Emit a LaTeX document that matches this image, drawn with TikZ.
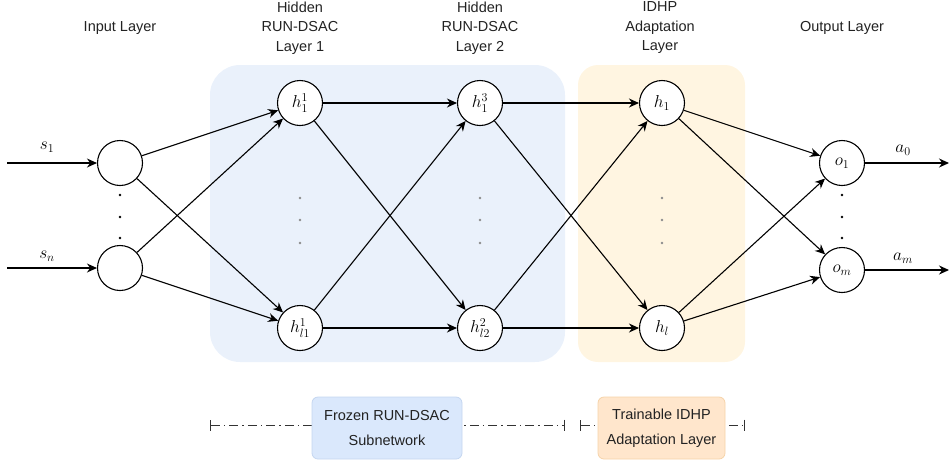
\documentclass[tikz,border=0pt]{standalone}
\usepackage{fontspec}
\setmainfont{Liberation Sans}
\usetikzlibrary{arrows.meta}
\definecolor{bluereg}{HTML}{EAF1FB}
\definecolor{orangereg}{HTML}{FFF5E1}
\definecolor{frozenfill}{HTML}{DAE8FC}
\definecolor{frozendraw}{HTML}{C4D6F0}
\definecolor{trainfill}{HTML}{FFE6CC}
\definecolor{traindraw}{HTML}{F6D3A8}
\definecolor{txt}{HTML}{222222}
\begin{document}
\begin{tikzpicture}[x=1pt,y=-1pt,
  neuron/.style={circle,draw=black,fill=white,line width=1.1pt,minimum size=45pt,inner sep=0pt,font=\LARGE},
  conn/.style={line width=1.1pt,-{Stealth[length=10pt,width=9pt]}},
  hdr/.style={align=center,font=\fontsize{14.5}{19.5}\selectfont,text=txt},
  lbl/.style={font=\LARGE},
  vdot/.style={circle,fill=#1,inner sep=0pt,minimum size=2.6pt},
  legline/.style={line width=0.9pt,draw=black!80,dash pattern=on 9pt off 4pt on 1.5pt off 4pt,{Bar[width=11pt,line width=1.1pt]}-{Bar[width=11pt,line width=1.1pt]}},
  legbox/.style={rounded corners=6pt,align=center,minimum height=62pt,inner sep=0pt,line width=0.8pt,font=\fontsize{14.5}{25}\selectfont,text=txt}
]
\useasboundingbox (0,0) rectangle (949,459);

% background regions
\fill[bluereg, rounded corners=30pt] (210,65) rectangle (565,362);
\fill[orangereg, rounded corners=20pt] (578,65) rectangle (745,362);

% headers
\node[hdr] (hin) at (120,28) {Input Layer};
\node[hdr] (hh1) at (300,28) {Hidden\\RUN-DSAC\\Layer 1};
\node[hdr] (hh2) at (480,28) {Hidden\\RUN-DSAC\\Layer 2};
\node[hdr] (hid) at (660,28) {IDHP\\Adaptation\\Layer};
\node[hdr] (hout) at (842,28) {Output Layer};

% neurons
\node[neuron] (i1) at (120,163) {};
\node[neuron] (i2) at (120,268) {};
\node[neuron] (a1) at (300,103) {$h^1_1$};
\node[neuron] (a2) at (300,328) {$h^1_{l1}$};
\node[neuron] (b1) at (480,103) {$h^3_1$};
\node[neuron] (b2) at (480,328) {$h^2_{l2}$};
\node[neuron] (c1) at (662,103) {$h_1$};
\node[neuron] (c2) at (662,328) {$h_l$};
\node[neuron] (o1) at (842,163) {$o_1$};
\node[neuron] (o2) at (842,270) {$o_m$};

% dots
\foreach \y [count=\k] in {195,217,238} {
  \node[vdot=black] (di\k) at (120,\y) {};
  \node[vdot=black] (do\k) at (842,\y) {};
}
\foreach \y [count=\k] in {198,220,243} {
  \node[vdot=black!45] (da\k) at (300,\y) {};
  \node[vdot=black!45] (db\k) at (480,\y) {};
  \node[vdot=black!45] (dc\k) at (662,\y) {};
}

% inputs and outputs
\coordinate (s1) at (7,163);
\coordinate (sn) at (7,268);
\coordinate (e1) at (949,163);
\coordinate (em) at (949,270);
\draw[conn] (s1) -- (i1);
\draw[conn] (sn) -- (i2);
\draw[conn] (o1) -- (e1);
\draw[conn] (o2) -- (em);
\node[lbl] (ls1) at (47,147) {$s_1$};
\node[lbl] (lsn) at (47,256) {$s_n$};
\node[lbl] (la0) at (903,150) {$a_0$};
\node[lbl] (lam) at (903,258) {$a_m$};

% connections
\foreach \s in {i1,i2} \foreach \t in {a1,a2} \draw[conn] (\s) -- (\t);
\foreach \s in {a1,a2} \foreach \t in {b1,b2} \draw[conn] (\s) -- (\t);
\foreach \s in {b1,b2} \foreach \t in {c1,c2} \draw[conn] (\s) -- (\t);
\foreach \s in {c1,c2} \foreach \t in {o1,o2} \draw[conn] (\s) -- (\t);

% legend
\coordinate (l1a) at (210,425);
\coordinate (l1b) at (565,425);
\coordinate (l2a) at (580,425);
\coordinate (l2b) at (745,425);
\draw[legline] (l1a) -- (l1b);
\draw[legline] (l2a) -- (l2b);
\node[legbox,fill=frozenfill,draw=frozendraw,minimum width=150pt] (fz) at (387,428) {Frozen RUN-DSAC\\Subnetwork};
\node[legbox,fill=trainfill,draw=traindraw,minimum width=127pt] (tr) at (661.5,428) {Trainable IDHP\\Adaptation Layer};
\end{tikzpicture}
\end{document}
